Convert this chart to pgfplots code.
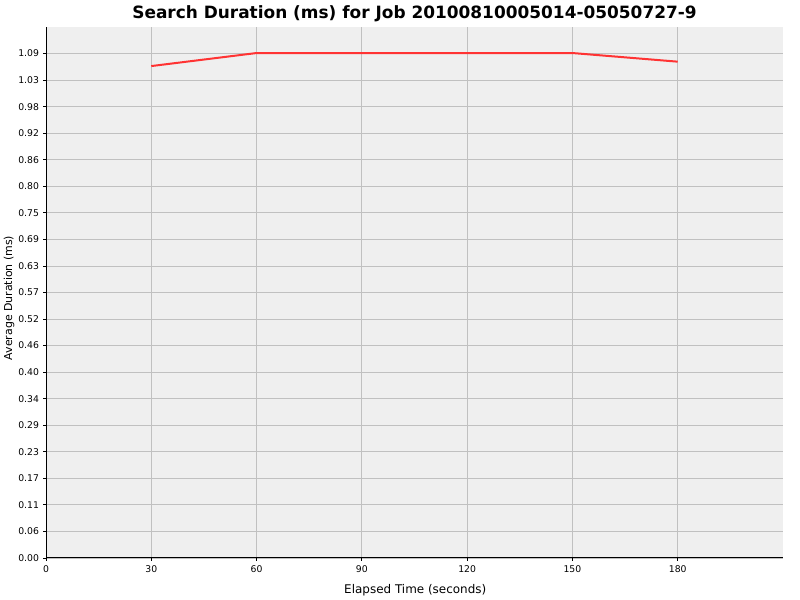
\documentclass[border=0pt]{standalone}
\usepackage{fontspec}
\setmainfont{DejaVu Sans}
\usepackage{pgfplots}
\pgfplotsset{compat=1.18}
\definecolor{plotbg}{HTML}{EFEFEF}
\definecolor{gridgray}{HTML}{C0C0C0}
\definecolor{linered}{HTML}{FF3333}
\begin{document}
\begin{tikzpicture}[x=1bp,y=1bp]
\path (0,0) rectangle (800,600);
\begin{axis}[
  at={(46bp,42bp)}, anchor=south west,
  scale only axis, width=737bp, height=531bp,
  xmin=0, xmax=210, ymin=0, ymax=1.148,
  axis background/.style={fill=plotbg},
  axis x line*=bottom, axis y line*=left,
  axis line style={-, black, line width=1bp},
  grid=major, major grid style={gridgray, line width=0.8bp},
  xtick={0,30,60,90,120,150,180},
  ytick={0,0.0574,0.1148,0.1722,0.2296,0.287,0.3444,0.4018,0.4592,0.5166,0.574,0.6314,0.6888,0.7462,0.8036,0.861,0.9184,0.9758,1.0332,1.0906},
  yticklabels={0.00,0.06,0.11,0.17,0.23,0.29,0.34,0.40,0.46,0.52,0.57,0.63,0.69,0.75,0.80,0.86,0.92,0.98,1.03,1.09},
  tick align=outside, major tick length=3bp,
  tick style={black, line width=0.8bp},
  ticklabel style={font=\fontsize{9.3}{10}\selectfont},
  /pgf/number format/assume math mode=true,
  xticklabel style={yshift=-1bp},
  yticklabel style={xshift=-0.5bp},
  title={Search Duration (ms) for Job 20100810005014-05050727-9},
  title style={font=\bfseries\fontsize{17}{19}\selectfont, at={(0.5,1)}, anchor=base, yshift=2.5bp},
  xlabel={Elapsed Time (seconds)},
  xlabel style={font=\fontsize{12}{14}\selectfont, at={(axis description cs:0.501,0)}, anchor=base, yshift=-36bp},
  ylabel={Average Duration (ms)},
  ylabel style={font=\fontsize{11}{13}\selectfont, at={(axis description cs:-0.0461,0.4896)}, anchor=base, rotate=0},
]
\addplot[linered, line width=2bp] coordinates {
  (30,1.0635) (60,1.0917) (90,1.0917) (120,1.0917) (150,1.0917) (180,1.073)
};
\end{axis}
\end{tikzpicture}
\end{document}
